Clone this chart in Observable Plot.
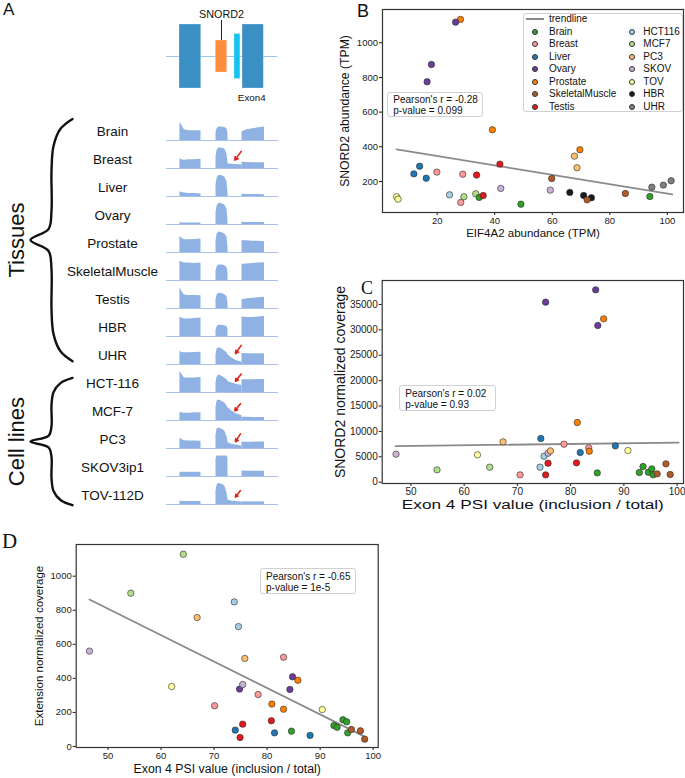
<!DOCTYPE html>
<html>
<head>
<meta charset="utf-8">
<script src="https://cdn.jsdelivr.net/npm/d3@7"></script>
<script src="https://cdn.jsdelivr.net/npm/@observablehq/plot@0.6"></script>
<style>
html,body{margin:0;padding:0;background:#fff;}
#fig{position:relative;width:685px;height:778px;overflow:hidden;font-family:"Liberation Sans",Arial,sans-serif;color:#111;}
#fig > *{position:absolute;}
.box{background:#fff;border:1px solid #d0d0d0;border-radius:3px;box-sizing:border-box;font-size:10px;line-height:11px;color:#111;white-space:nowrap;padding:1.5px 0 0 5px;}
.sans{font-family:"Liberation Sans",Arial,sans-serif;}
.serif{font-family:"Liberation Serif","Times New Roman",serif;}
.mk{position:absolute;width:6px;height:6px;border-radius:50%;border:0.7px solid #333;box-sizing:border-box;}
.lt{position:absolute;font-size:10px;line-height:10px;white-space:nowrap;}
</style>
</head>
<body>
<div id="fig"></div>
<script>
// ---------------- DATA ----------------
// Panel A: samples and coverage profiles (heights)
const samples = ["Brain","Breast","Liver","Ovary","Prostate","SkeletalMuscle","Testis","HBR","UHR","HCT-116","MCF-7","PC3","SKOV3ip1","TOV-112D"];
const exon3X = [12, 13.5, 16, 20, 25, 30.8];
const snordX = [44.2, 45.2, 46.6, 49, 52, 54, 54.9];
const tailX  = [54.9, 58, 62, 67.4];
const exon4X = [67.4, 72, 77, 82, 87.5];
const exon3Cov = [
  [18.7,16,11,10,10,10],[10,9,8.5,9,9,9.5],[5,4,3.5,3,3,2.5],[1.7,1.5,1.5,1.5,1.5,1.5],
  [17,15,13,13,13.5,14],[20,19,18,18,17.5,18],[21.7,18,14,13.3,13.3,13],[20,19,18,18,18.5,19],
  [14,12.3,12,12,12.3,12.5],[21.7,19,15,15,15,15.5],[8.3,8,7.5,7.5,8,8],[10.3,9.5,8,7.7,7.7,7.5],
  [4.3,4.3,4.3,4.3,4.3,4.3],[3.3,3.3,3,3,3,3]];
const snordCov = [
  [8,12,14,14,13.5,12,7],[12,19,21,21,20,15,6],[12,19,21.5,21.7,20,15,4],[12,19,21.5,21.7,20,16,4],
  [12,19,21,20.5,19,16,5],[9,14,16,16,15.5,13,8],[9,14,15.7,15.5,14.5,12,6],[6,10,11.7,11.5,11,10,7],
  [10,16,17.3,16.5,14,12,10],[10,16,18,17,15,13,11.5],[14,20,21,20,18,15,13],[14,20,21,20,18,12,7],
  [18,21,21,21,21,21,19],[14,20,21.7,21,19,12,5]];
const tailCov = [
  [0,0,0,0],[5,4.5,4,3.5],[0,0,0,0],[0,0,0,0],[0,0,0,0],[0,0,0,0],[0,0,0,0],[0,0,0,0],
  [10,7,4,2.3],[11,10,8.5,7.3],[13,10,7,5],[6,4.5,3.5,2.7],[0,0,0,0],[4.3,3.5,3,2.7]];
const exon4Cov = [
  [9,11,12,13,14],[6.5,6.3,6,6,6],[2.3,2,2,2,1.8],[2.3,2,2,2,2],[12,12,11.5,11.5,11],
  [16.7,17,17.5,18,18.3],[9,10,10.5,11,11.7],[20,19.5,19.5,20,20.5],[11.3,11,11,11,11],
  [13,13,13,13.5,13.5],[3.3,3.3,3,3,3],[6.7,6.5,6.5,6.7,6.7],[5.7,5.5,5.5,5.5,5.5],[2.7,2.7,2.7,2.7,2.7]];
// arrows: sample, tail x, tail height, head x, head height
const arrowSamples = ["Breast","UHR","HCT-116","MCF-7","PC3","TOV-112D"];
const arrowTailX = [66.7, 66.7, 66.7, 66, 66, 66];
const arrowTailH = [17.6, 19.7, 19, 17.3, 15, 14.3];
const arrowHeadX = [61, 61.6, 61.6, 61, 61.6, 61.6];
const arrowHeadH = [8.6, 11.3, 11.6, 10, 7, 7.6];
// gene model
const featureNames = ["Exon3","SNORD2","extension","Exon4"];
const featureStart = [11.6, 44, 60.7, 67.9];
const featureEnd   = [31, 54.2, 66, 86.9];
const featureHalf  = [32, 16, 22.5, 32];
const featureColor = ["#3a8fc3","#fd8d3c","#17c2f0","#3a8fc3"];
// braces
const braceGroups = ["Tissues","Cell lines"];
const braceFirst = ["Brain","HCT-116"];
const braceLast = ["UHR","TOV-112D"];

// Scatter categories
const groups = ["Brain","Breast","Liver","Ovary","Prostate","SkeletalMuscle","Testis","HCT116","MCF7","PC3","SKOV","TOV","HBR","UHR"];
const palette = ["#33a02c","#fb9a99","#1f78b4","#6a3d9a","#ff7f00","#b15928","#e31a1c","#a6cee3","#b2df8a","#fdbf6f","#cab2d6","#ffff99","#1a1a1a","#808080"];

// Panel B
const bGroup = ["Prostate","Ovary","Ovary","Ovary","Prostate","Prostate","PC3","PC3","Testis","Liver","Liver","Liver","Breast","Breast","Testis","SkeletalMuscle","HCT116","Breast","MCF7","MCF7","Brain","Testis","SKOV","Brain","SKOV","HBR","HBR","HBR","SkeletalMuscle","SkeletalMuscle","Brain","UHR","UHR","UHR","TOV","TOV"];
const bX = [28.1,26.4,18.0,16.5,39.2,69.6,67.7,68.6,41.8,13.9,11.9,16.2,19.9,28.9,33.7,59.8,24.3,28.2,29.3,33.4,34.6,36.0,42.1,49.1,59.3,66.1,70.9,73.6,72.1,85.4,93.9,94.6,98.6,101.3,5.9,6.4];
const bY = [1135,1119,875,775,498,383,346,279,300,288,244,219,254,242,237,217,123,79,112,129,108,119,160,69,150,137,119,106,94,131,113,167,179,204,112,98];
const bTrendX = [5.9, 101.7];
const bTrendY = [385, 125];

// Panel C
const cGroup = ["SKOV","MCF7","TOV","MCF7","PC3","Breast","HCT116","Liver","HCT116","Ovary","SKOV","PC3","Testis","Testis","Breast","Prostate","Testis","Liver","Ovary","Ovary","Prostate","Breast","Prostate","Brain","Liver","TOV","Brain","Brain","Brain","Brain","Brain","SkeletalMuscle","SkeletalMuscle","SkeletalMuscle"];
const cX = [47.2,54.9,62.5,64.8,67.3,70.5,74.25,74.4,75.0,75.3,75.75,76.2,75.75,75.3,78.75,81.25,81.1,81.8,84.7,85.1,86.2,83.4,83.5,85.0,88.4,90.75,92.9,93.6,94.6,95.25,95.5,96.25,97.9,98.7];
const cY = [5516,2430,5384,2955,7945,1445,2955,8602,5122,35459,5713,6172,3743,1445,7486,11754,3808,5844,37888,30862,32175,6763,6107,1839,7157,6238,1904,3086,1970,2627,1445,1642,3611,1510];
const cTrendX = [47.1, 100.3];
const cTrendY = [7092, 7810];

// Panel D
const dGroup = ["SKOV","MCF7","TOV","MCF7","PC3","Breast","HCT116","HCT116","Liver","Ovary","SKOV","PC3","Testis","Testis","Breast","Prostate","Testis","Liver","Breast","Prostate","Ovary","Ovary","Prostate","Brain","Liver","TOV","Brain","Brain","Brain","Brain","Brain","SkeletalMuscle","SkeletalMuscle","SkeletalMuscle"];
const dX = [46.5,54.3,62.0,64.2,66.8,70.1,73.8,74.6,74.0,74.8,75.4,75.8,75.4,74.9,78.3,80.9,80.8,81.4,83.1,83.1,84.8,84.3,85.8,84.6,88.1,90.4,92.6,93.2,94.3,95.0,95.2,95.9,97.6,98.4];
const dY = [560,900,352,1129,757,239,849,704,96,337,364,517,131,53,305,249,151,80,524,219,409,335,389,90,65,217,123,113,157,145,80,100,92,43];
const dTrendX = [46.5, 98.4];
const dTrendY = [863, 58];

// ---------------- RENDER ----------------
const fig = document.getElementById("fig");
const FONT = '"Liberation Sans", Arial, sans-serif';
function place(el, left, top) { el.style.left = left + "px"; el.style.top = top + "px"; fig.appendChild(el); return el; }

// Panel A: coverage tracks
const cov = [];
samples.forEach((s, i) => {
  const segs = [[s + "e3", exon3X, exon3Cov[i]], [s + "sn", snordX, snordCov[i]], [s + "sn", tailX, tailCov[i]], [s + "e4", exon4X, exon4Cov[i]]];
  segs.forEach(([seg, xs, hs]) => {
    if (hs.every(h => h === 0)) return;
    xs.forEach((x, j) => cov.push({sample: s, seg, x, h: hs[j]}));
  });
});
const arrows = arrowSamples.map((s, i) => ({sample: s, tx: arrowTailX[i], th: arrowTailH[i], hx: arrowHeadX[i], hh: arrowHeadH[i]}));

const tracks = Plot.plot({
  width: 280, height: 512, marginLeft: 166, marginRight: 2, marginTop: 106, marginBottom: 3,
  style: {fontFamily: FONT, background: "transparent", overflow: "visible"},
  x: {domain: [0, 100], axis: null},
  y: {domain: [0, 28.8], axis: null},
  fy: {domain: samples, axis: null, padding: 0},
  marks: [
    Plot.area(cov, {x1: "x", y1: 0, y2: "h", z: "seg", fy: "sample", fill: "#8fb1e3"}),
    Plot.ruleY(samples, {y: 0, fy: d => d, stroke: "#a8c2ea", strokeWidth: 1}),
    Plot.arrow(arrows, {x1: "tx", y1: "th", x2: "hx", y2: "hh", fy: "sample", stroke: "#e0211c", strokeWidth: 1.6, headLength: 5}),
    Plot.text(samples, {fy: d => d, text: d => d, frameAnchor: "left", textAnchor: "middle", dx: -54, dy: 5, fontSize: 13.5, fill: "#111"})
  ]
});
place(tracks, 0, 0);

// Panel A: gene model
const features = featureNames.map((n, i) => ({name: n, start: featureStart[i], end: featureEnd[i], half: featureHalf[i], color: featureColor[i]}));
const snord = features[1];
const diagram = Plot.plot({
  width: 280, height: 106, marginLeft: 166, marginRight: 2, marginTop: 0, marginBottom: 0,
  style: {fontFamily: FONT, background: "transparent", overflow: "visible"},
  x: {domain: [0, 100], axis: null},
  y: {domain: [-50, 56], axis: null},
  color: {type: "identity"},
  marks: [
    Plot.ruleY([0], {x1: 0, x2: 99, stroke: "#9fc6e8", strokeWidth: 1}),
    Plot.rect(features, {x1: "start", x2: "end", y1: d => -d.half, y2: d => d.half, fill: "color", stroke: "#ffffff", strokeOpacity: 0.35, strokeWidth: 0.8}),
    Plot.ruleX([snord], {x: d => (d.start + d.end) / 2, y1: 16, y2: 36, stroke: "#222", strokeWidth: 1}),
    Plot.text([snord], {x: d => (d.start + d.end) / 2, y: 42, text: d => d.name, fontSize: 10.8, fill: "#111"}),
    Plot.text([features[3]], {x: 63.7, y: -41, text: d => d.name, textAnchor: "start", fontSize: 9.8, fill: "#111"})
  ]
});
place(diagram, 0, 0);

// Panel A: braces
const braceTemplate = [[1,0],[0.714,0.041],[0.548,0.112],[0.5,0.215],[0.5,0.38],[0.429,0.455],[0,0.5],[0.429,0.545],[0.5,0.62],[0.5,0.785],[0.548,0.888],[0.714,0.959],[1,1]];
const braces = braceGroups.map((g, i) => ({group: g, from: samples.indexOf(braceFirst[i]) - 0.57, to: samples.indexOf(braceLast[i]) - 0.15}));
const bracePts = braces.flatMap(b => braceTemplate.map(([u, t]) => ({group: b.group, u, y: b.from + t * (b.to - b.from)})));
const braceSvg = Plot.plot({
  width: 280, height: 530, margin: 0,
  style: {fontFamily: FONT, background: "transparent", overflow: "visible"},
  x: {domain: [0, 1], range: [30, 72], axis: null},
  y: {domain: [0, 13], range: [134.8, 509], axis: null},
  marks: [
    Plot.line(bracePts, {x: "u", y: "y", z: "group", curve: "catmull-rom", stroke: "#111", strokeWidth: 2.4}),
    Plot.text(braces, {x: -0.33, y: d => (d.from + d.to) / 2, text: "group", rotate: -90, fontSize: 22, fill: "#111"})
  ]
});
place(braceSvg, 0, 0);

// Scatter panels
function scatter(o) {
  const rows = o.g.map((gr, i) => ({group: gr, x: o.xs[i], y: o.ys[i]}));
  const trend = o.tx.map((x, i) => ({x, y: o.ty[i]}));
  const svg = Plot.plot({
    width: o.width, height: o.height,
    marginLeft: o.ml, marginRight: o.mr, marginTop: o.mt, marginBottom: o.mb,
    style: {fontFamily: FONT, fontSize: o.tickFont + "px", color: "#1a1a1a", background: "transparent", overflow: "visible"},
    x: {domain: o.xDomain, ticks: o.xTicks, tickSize: 3, tickPadding: 1.5, label: null, tickFormat: "d"},
    y: {domain: o.yDomain, ticks: o.yTicks, tickSize: 3, tickPadding: 1.5, label: null, tickFormat: "d"},
    color: {domain: groups, range: palette},
    marks: [
      Plot.line(trend, {x: "x", y: "y", stroke: "#8a8a8a", strokeWidth: 1.8}),
      Plot.dot(rows, {x: "x", y: "y", fill: "group", stroke: "#2a2a2a", strokeWidth: 0.6, r: 3.2}),
      Plot.frame({stroke: "#333", strokeWidth: 1.2}),
      Plot.text([o.xLabel], {text: d => d, frameAnchor: "bottom", dy: o.xLabelDy, lineAnchor: "middle", textAnchor: "middle", fontSize: o.xLabelSize, fill: "#111"}),
      Plot.text([o.yLabel], {text: d => d, frameAnchor: "left", rotate: -90, dx: o.yLabelDx, textAnchor: "middle", lineAnchor: "middle", fontSize: o.yLabelSize, fill: "#111"})
    ]
  });
  if (o.xLabelLength) {
    svg.querySelectorAll("text").forEach(t => {
      if (t.textContent === o.xLabel) { t.setAttribute("textLength", o.xLabelLength); t.setAttribute("lengthAdjust", "spacingAndGlyphs"); }
    });
  }
  return svg;
}

const plotB = scatter({g: bGroup, xs: bX, ys: bY, tx: bTrendX, ty: bTrendY,
  width: 355, height: 248, ml: 52, mr: 2, mt: 9, mb: 36,
  xDomain: [1, 105.6], yDomain: [21, 1192], xTicks: [20, 40, 60, 80, 100], yTicks: [200, 400, 600, 800, 1000],
  xLabel: "EIF4A2 abundance (TPM)", yLabel: "SNORD2 abundance (TPM)",
  xLabelSize: 11.5, yLabelSize: 12.2, xLabelDy: 20.5, yLabelDx: -37, tickFont: 9.5});
place(plotB, 330, 0);

const plotC = scatter({g: cGroup, xs: cX, ys: cY, tx: cTrendX, ty: cTrendY,
  width: 355, height: 250, ml: 51.7, mr: 2, mt: 10, mb: 37,
  xDomain: [44.6, 101.2], yDomain: [-260, 39727], xTicks: [50, 60, 70, 80, 90, 100], yTicks: [0, 5000, 10000, 15000, 20000, 25000, 30000, 35000],
  xLabel: "Exon 4 PSI value (inclusion / total)", yLabel: "SNORD2 normalized coverage",
  xLabelSize: 12.5, xLabelLength: 262, yLabelSize: 14, xLabelDy: 21.5, yLabelDx: -42, tickFont: 10});
place(plotC, 330, 270);

const plotD = scatter({g: dGroup, xs: dX, ys: dY, tx: dTrendX, ty: dTrendY,
  width: 382, height: 248, ml: 75.7, mr: 4.3, mt: 14, mb: 31,
  xDomain: [44.0, 100.95], yDomain: [-6, 1186], xTicks: [50, 60, 70, 80, 90, 100], yTicks: [0, 200, 400, 600, 800, 1000],
  xLabel: "Exon 4 PSI value (inclusion / total)", yLabel: "Extension normalized coverage",
  xLabelSize: 12.3, yLabelSize: 11.5, xLabelDy: 22, yLabelDx: -36.7, tickFont: 9.5});
place(plotD, 0, 530);

// Stat boxes
function statBox(left, top, w, h, lines) {
  const d = document.createElement("div");
  d.className = "box";
  d.style.width = w + "px"; d.style.height = h + "px";
  lines.forEach(t => { const l = document.createElement("div"); l.textContent = t; d.appendChild(l); });
  return place(d, left, top);
}
statBox(387.3, 91.7, 95.4, 25.6, ["Pearson's r = -0.28", "p-value = 0.099"]);
statBox(399.3, 385, 96.4, 25.7, ["Pearson's r = 0.02", "p-value = 0.93"]);
statBox(260, 568.3, 96, 25.7, ["Pearson's r = -0.65", "p-value = 1e-5"]);

// Legend for panel B
const leg = document.createElement("div");
leg.className = "box";
leg.style.width = "159.4px"; leg.style.height = "99.6px"; leg.style.padding = "0";
place(leg, 523.3, 12.7);
const rowY = k => 5.6 + 12.53 * k;
{
  const ln = document.createElement("div");
  Object.assign(ln.style, {position: "absolute", left: "1.7px", width: "18.3px", height: "0", borderTop: "2px solid #8a8a8a", top: (rowY(0) - 1) + "px"});
  leg.appendChild(ln);
  const t = document.createElement("div"); t.className = "lt"; t.textContent = "trendline";
  t.style.left = "24.7px"; t.style.top = (rowY(0) - 5) + "px"; leg.appendChild(t);
}
groups.forEach((g, i) => {
  const col = i < 7 ? 0 : 1, row = i < 7 ? i + 1 : i - 6;
  const mx = col ? 107.4 : 11, tx = col ? 119 : 24.7;
  const m = document.createElement("div"); m.className = "mk"; m.style.background = palette[i];
  m.style.left = (mx - 3) + "px"; m.style.top = (rowY(row) - 3) + "px"; leg.appendChild(m);
  const t = document.createElement("div"); t.className = "lt"; t.textContent = g;
  t.style.left = tx + "px"; t.style.top = (rowY(row) - 5) + "px"; leg.appendChild(t);
});

// Panel letters
function letter(txt, cls, size, left, top) {
  const d = document.createElement("div"); d.className = cls; d.textContent = txt;
  d.style.fontSize = size + "px"; d.style.lineHeight = size + "px";
  return place(d, left, top);
}
letter("A", "sans", 17, 3, 0.5);
letter("B", "sans", 18, 357, 2);
letter("C", "serif", 18, 361, 279);
letter("D", "serif", 21, 2, 531);
</script>
</body>
</html>
